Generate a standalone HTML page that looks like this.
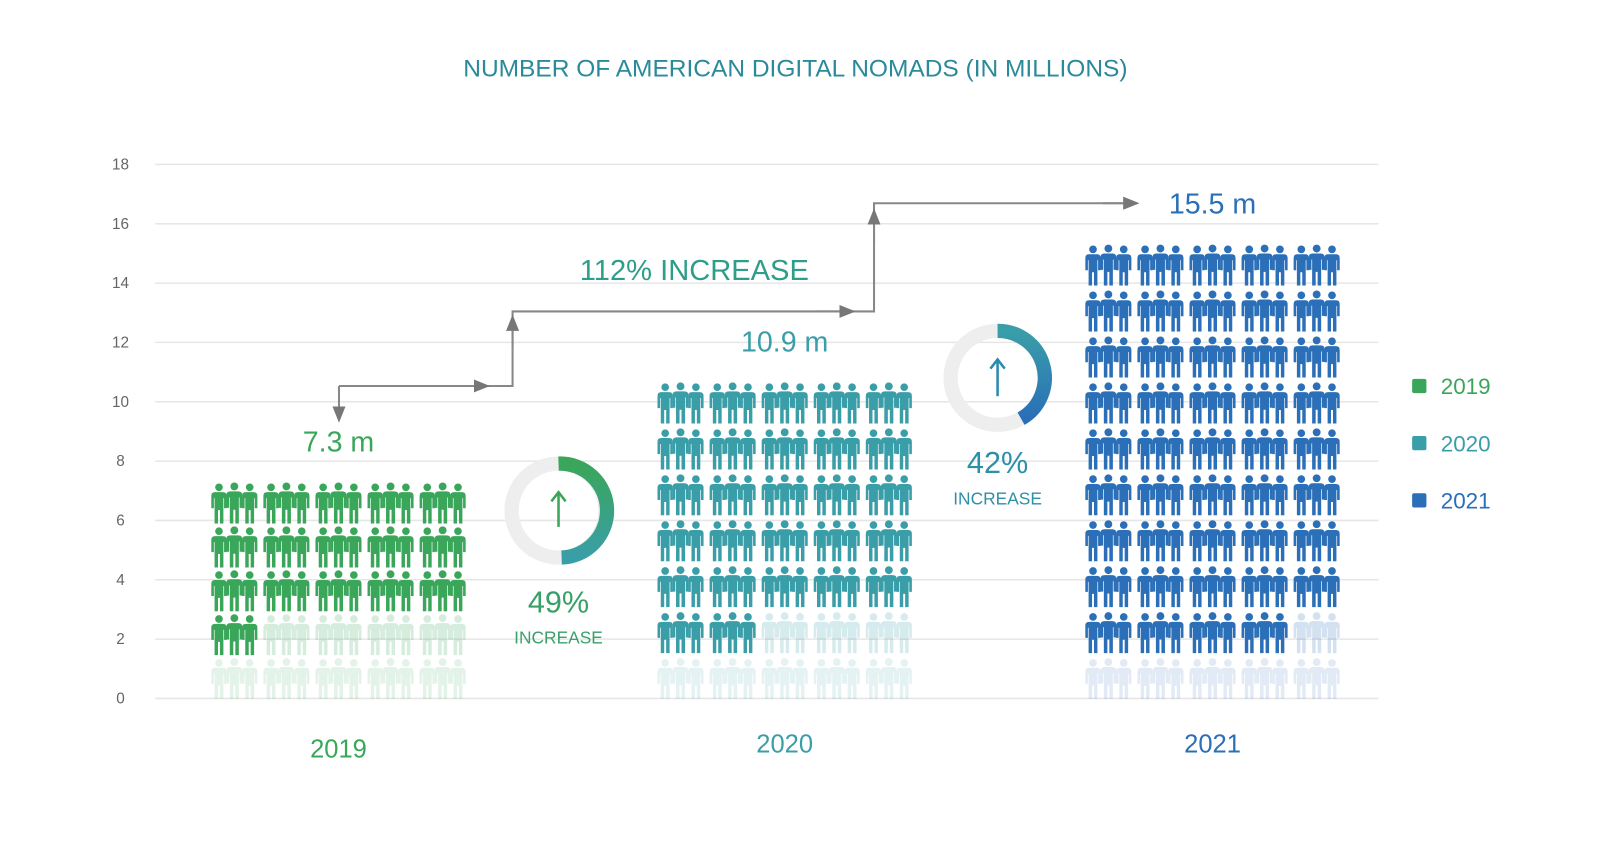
<!DOCTYPE html>
<html><head><meta charset="utf-8"><style>
html,body{margin:0;padding:0;background:#fff;}
body{width:1600px;height:851px;overflow:hidden;font-family:"Liberation Sans",sans-serif;}
</style></head><body>
<svg width="1600" height="851" viewBox="0 0 1567 833.4" font-family="Liberation Sans, sans-serif">
<defs>
<symbol id="p" viewBox="0 0 18 42"><circle cx="9" cy="4.2" r="4"/><path d="M1,13 Q1,9.3 5,9.3 H13 Q17,9.3 17,13 V26 H14.3 V15.5 H13.6 V42 H10 V28 H8 V42 H4.4 V15.5 H3.7 V26 H1 Z"/></symbol>
<symbol id="g" viewBox="0 0 50 42"><use href="#p" x="0" y="0" width="18" height="42"/><use href="#p" x="32" y="0" width="18" height="42"/><use href="#p" x="14.5" y="-1" width="21" height="43"/></symbol>
<linearGradient id="d1" x1="0" y1="0" x2="0" y2="1"><stop offset="0" stop-color="#3aa65a"/><stop offset="1" stop-color="#3a9ea8"/></linearGradient>
<linearGradient id="d2" x1="0" y1="0" x2="0" y2="1"><stop offset="0" stop-color="#3a9ea8"/><stop offset="1" stop-color="#2a6fb8"/></linearGradient>
<marker id="ah" viewBox="0 0 10 10" refX="5" refY="5" markerWidth="8" markerHeight="8" orient="auto"><path d="M0,1 L10,5 L0,9 Z" fill="#777"/></marker>
</defs>
<text x="779" y="75" text-anchor="middle" font-size="24" fill="#2a8a9a">NUMBER OF AMERICAN DIGITAL NOMADS (IN MILLIONS)</text>
<g id="grid"></g>
<g id="bars"></g>
<g fill="none" stroke="#888" stroke-width="2">
<polyline points="332,378 502,378 502,305 856,305 856,199 1108,199"/>
<line x1="332" y1="378" x2="332" y2="406" marker-end="url(#ah)"/>
<line x1="440" y1="378" x2="472" y2="378" marker-end="url(#ah)"/>
<line x1="502" y1="340" x2="502" y2="316" marker-end="url(#ah)"/>
<line x1="800" y1="305" x2="830" y2="305" marker-end="url(#ah)"/>
<line x1="856" y1="240" x2="856" y2="212" marker-end="url(#ah)"/>
<line x1="1080" y1="199" x2="1108" y2="199" marker-end="url(#ah)"/>
</g>
<text x="680" y="274" text-anchor="middle" font-size="28.5" fill="#2f9e88">112% INCREASE</text>
<g>
<circle cx="547" cy="500" r="46" fill="none" stroke="#eee" stroke-width="14"/>
<path d="M547,454 A46,46 0 0 1 550,546" fill="none" stroke="url(#d1)" stroke-width="14"/>
<line x1="547" y1="516" x2="547" y2="484" stroke="#3aa65a" stroke-width="2.5"/>
<path d="M540,491 L547,482 L554,491" fill="none" stroke="#3aa65a" stroke-width="2.5"/>
<text x="547" y="600" text-anchor="middle" font-size="30" fill="#3aa06a">49%</text>
<text x="547" y="630" text-anchor="middle" font-size="17" fill="#3aa06a">INCREASE</text>
</g>
<g>
<circle cx="977" cy="370" r="46" fill="none" stroke="#eee" stroke-width="14"/>
<path d="M977,324 A46,46 0 0 1 1000,410" fill="none" stroke="url(#d2)" stroke-width="14"/>
<line x1="977" y1="388" x2="977" y2="354" stroke="#2a8ab0" stroke-width="2.5"/>
<path d="M970,361 L977,352 L984,361" fill="none" stroke="#2a8ab0" stroke-width="2.5"/>
<text x="977" y="463" text-anchor="middle" font-size="30" fill="#2e8fa8">42%</text>
<text x="977" y="494" text-anchor="middle" font-size="17" fill="#2e8fa8">INCREASE</text>
</g>
<g id="legend"></g>
</svg>
<script>
const categories = ["2019","2020","2021"];
const values = [7.3, 10.9, 15.5];
const solidGroups = [16, 27, 44];
const totalRows = [5, 7, 10];
const yTicks = [0,2,4,6,8,10,12,14,16,18];
const colors = ["#3aa65a","#3a9ea8","#2a6fb8"];
const NS = "http://www.w3.org/2000/svg";
const y0 = 684, yTop = 161, yMax = 18;
const y = v => y0 - (v / yMax) * (y0 - yTop);
const groupStart = [206, 643, 1062];
const rowSteps = [43, 45, 45];
const gW = 47, gStep = 51, rowBottom = 686, gH = 42;
function mk(tag, attrs, parent){const e=document.createElementNS(NS,tag);for(const k in attrs)e.setAttribute(k,attrs[k]);parent.appendChild(e);return e;}
const grid = document.getElementById('grid');
yTicks.forEach(t=>{
  const l = mk('line',{x1:152,x2:1350,y1:y(t),y2:y(t),stroke:'#e6e6e6','stroke-width':1.5},grid);
  
  
  const tx = mk('text',{x:118,y:y(t)+5,'text-anchor':'middle','font-size':15,fill:'#666'},grid);
  tx.textContent = t;
  
  
});
const bars = document.getElementById('bars');
categories.forEach((c,i)=>{
  const g = mk('g',{fill:colors[i]},bars);
  
  
  const rows = totalRows[i], rs = rowSteps[i];
  for(let r=0;r<rows;r++){
    for(let k=0;k<5;k++){
      const idx = r*5+k;
      const top = rowBottom - gH - (rows-1-r)*rs;
      let op = idx < solidGroups[i] ? 1 : (r===rows-1 ? 0.13 : 0.2);
      const u = mk('use',{href:'#g',x:groupStart[i]+k*gStep,y:top,width:gW,height:gH,opacity:op},g);
      
      
    }
  }
  const cx = groupStart[i] + 2*gStep + gW/2;
  const lbl = mk('text',{x:cx,y:rowBottom - gH - (rows-1)*rs - 30,'text-anchor':'middle','font-size':28,fill:colors[i]},bars);
  lbl.textContent = values[i] + ' m';
  
  
  const xl = mk('text',{x:cx,y:i===0?742:737,'text-anchor':'middle','font-size':25,fill:colors[i]},bars);
  xl.textContent = c;
  
  
});
const legend = document.getElementById('legend');
categories.forEach((c,i)=>{
  const yy = 378 + i*56;
  const r = mk('rect',{x:1383,y:yy-7,width:14,height:14,fill:colors[i],rx:2},legend);
  
  
  const t = mk('text',{x:1411,y:yy+8,'font-size':22,fill:colors[i]},legend);
  t.textContent = c;
  
  
});
</script>
</body></html>
